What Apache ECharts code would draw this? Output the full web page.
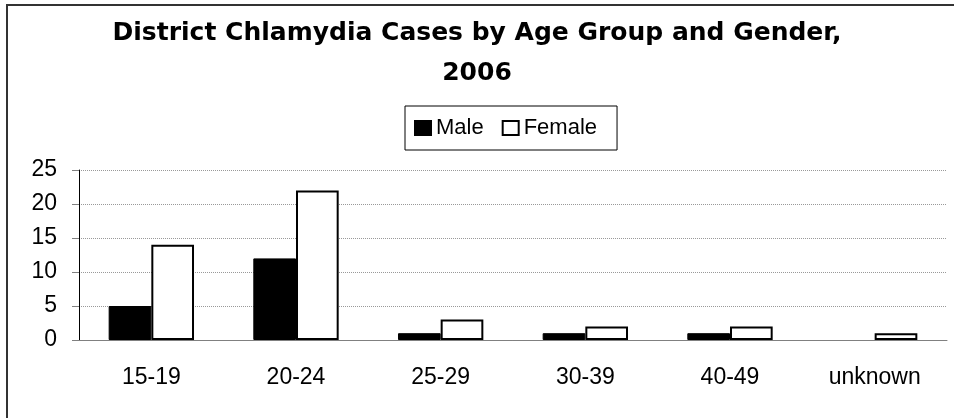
<!DOCTYPE html>
<html>
<head>
<meta charset="utf-8">
<script src="https://cdn.jsdelivr.net/npm/echarts@6/dist/echarts.min.js"></script>
<style>
  html, body { margin: 0; padding: 0; background: #fff; }
  #chart { width: 954px; height: 418px; }
</style>
</head>
<body>
<div id="chart"></div>
<script>
const categories = ['15-19', '20-24', '25-29', '30-39', '40-49', 'unknown']
const maleCases = [5, 12, 1, 1, 1, 0]
const femaleCases = [14, 22, 3, 2, 2, 1]
const yTicks = { min: 0, max: 25, interval: 5 }

const FONT = 'Liberation Sans, Arial, sans-serif'
const TITLE_FONT = 'DejaVu Sans, sans-serif'

// zero-height bars should not leave a stroke on the axis
function toBarData(values) {
  return values.map(v => (v === 0 ? { value: v, itemStyle: { borderWidth: 0 } } : v))
}

const chart = echarts.init(document.getElementById('chart'))

chart.setOption({
  animation: false,
  title: {
    text: 'District Chlamydia Cases by Age Group and Gender,\n2006',
    left: 'center',
    top: 13,
    padding: 0,
    textStyle: {
      fontFamily: TITLE_FONT,
      fontSize: 25,
      fontWeight: 'bold',
      color: '#000',
      lineHeight: 40
    }
  },
  legend: {
    left: 405,
    top: 106,
    padding: [11, 20, 11, 9],
    borderColor: '#000',
    borderWidth: 1,
    itemWidth: 16,
    itemHeight: 14,
    itemGap: 18,
    icon: 'rect',
    textStyle: {
      fontFamily: FONT,
      fontSize: 22,
      color: '#000'
    },
    data: ['Male', 'Female']
  },
  graphic: [{
    type: 'rect',
    shape: { x: 7, y: 5, width: 960, height: 430 },
    style: { fill: 'none', stroke: '#333', lineWidth: 2 },
    silent: true
  }],
  grid: {
    left: 79,
    right: 7,
    top: 170,
    bottom: 78
  },
  xAxis: {
    type: 'category',
    data: categories,
    axisLine: { lineStyle: { color: '#808080', width: 1 } },
    axisTick: { length: 7, lineStyle: { color: '#808080' } },
    axisLabel: {
      margin: 26,
      fontFamily: FONT,
      fontSize: 23,
      color: '#000'
    }
  },
  yAxis: {
    type: 'value',
    min: yTicks.min,
    max: yTicks.max,
    interval: yTicks.interval,
    axisLine: { show: true, lineStyle: { color: '#000', width: 1 } },
    axisTick: { show: true, length: 7, lineStyle: { color: '#808080' } },
    axisLabel: {
      margin: 22,
      fontFamily: FONT,
      fontSize: 23,
      color: '#000'
    },
    splitLine: {
      lineStyle: { color: '#999', type: 'dotted', width: 1 }
    }
  },
  series: [
    {
      name: 'Male',
      type: 'bar',
      barGap: '0%',
      barCategoryGap: '41%',
      itemStyle: { color: '#000', borderColor: '#000', borderWidth: 1 },
      data: toBarData(maleCases)
    },
    {
      name: 'Female',
      type: 'bar',
      itemStyle: { color: '#fff', borderColor: '#000', borderWidth: 2 },
      data: toBarData(femaleCases)
    }
  ]
})
</script>
</body>
</html>
